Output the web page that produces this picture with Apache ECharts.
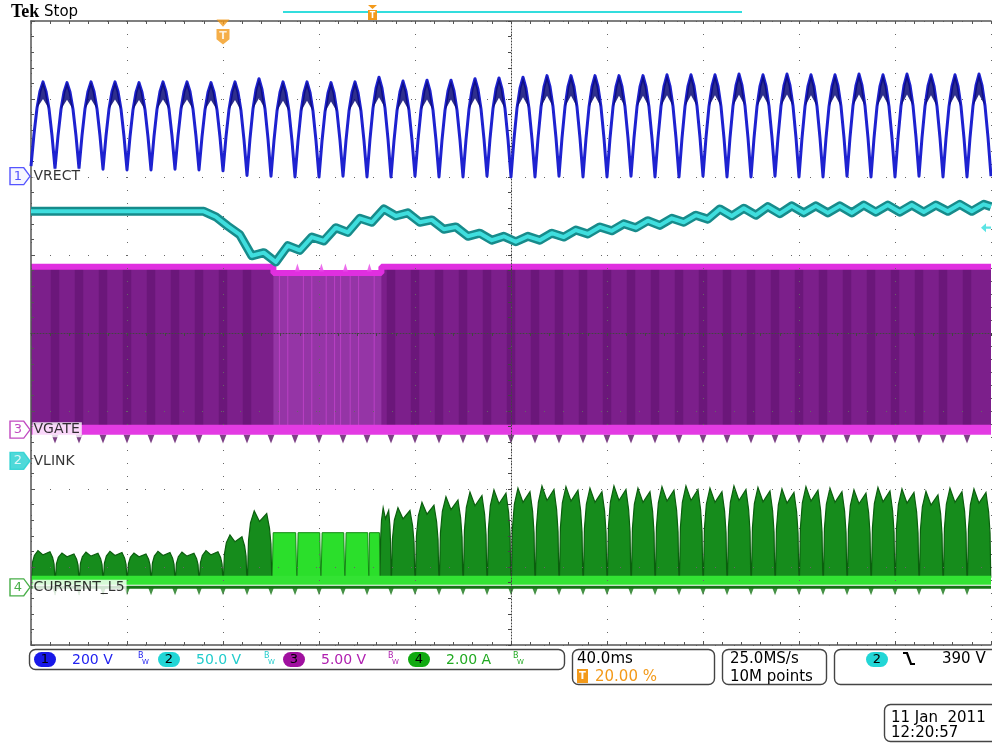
<!DOCTYPE html>
<html><head><meta charset="utf-8">
<script src="https://cdn.jsdelivr.net/npm/echarts@6/dist/echarts.min.js"></script>
<style>html,body{margin:0;padding:0;background:#fff}#c{width:992px;height:744px}</style>
</head><body><div id="c"></div><script>
// ---------------- axes (time in ms, amplitude in screen divisions) ----------------
const timeMin = -80, timeMax = 320, timeStep = 40;
const divMin = -4, divMax = 4;
const triggerT = 0;
const trigLevelDiv = 1.35;

// ---------------- CH1 VRECT (rectified mains) ----------------
const vrectTroughT = [-80,-70,-60,-50,-40,-30,-20,-10,0,10,20,30,40,50,60,70,80,90,100,110,120,130,140,150,160,170,180,190,200,210,220,230,240,250,260,270,280,290,300,310,320];
const vrectTroughV = [2.14,2.11,2.11,2.10,2.09,2.09,2.10,2.09,2.08,2.02,2.01,2.00,2.00,2.01,2.00,2.00,2.01,2.00,2.00,2.01,2.00,2.00,2.01,2.00,2.00,2.01,2.00,2.00,2.01,2.00,2.00,2.01,2.00,2.00,2.01,2.00,2.00,2.01,2.00,2.00,2.01];
const vrectPeakV = [3.22,3.21,3.22,3.22,3.21,3.22,3.22,3.21,3.22,3.26, 3.22,3.22,3.21,3.22,3.28,3.23,3.24,3.24,3.26,3.27, 3.28,3.30,3.30,3.30,3.30,3.30,3.31,3.31,3.31,3.32, 3.31,3.32,3.31,3.31,3.32,3.31,3.32,3.31,3.31,3.32];
const vrectShapeF = [0,0.125,0.25,0.375,0.5,0.625,0.75,0.875];
const vrectShapeK = [0,0.38,0.69,0.89,1,0.89,0.69,0.38];
const vrectCapNotchK = 0.8;   // inner bottom of the dark noise cap at each peak

// ---------------- CH2 VLINK ----------------
const vlinkT = [-80,-8,-3,2,7,12,17,22,27,32,37,42,47,52,57,62,67,72,77,82,87,92,97,102,107,112,117,122,127,132,137,142,147,152,157,162,167,172,177,182,187,192,197,202,207,212,217,222,227,232,237,242,247,252,257,262,267,272,277,282,287,292,297,302,307,312,317,320];
const vlinkV = [1.56,1.56,1.49,1.37,1.26,0.99,1.03,0.91,1.12,1.06,1.23,1.18,1.35,1.29,1.47,1.42,1.59,1.50,1.54,1.42,1.45,1.33,1.36,1.24,1.28,1.19,1.24,1.17,1.24,1.19,1.28,1.23,1.32,1.27,1.36,1.31,1.40,1.35,1.44,1.38,1.47,1.42,1.51,1.46,1.59,1.50,1.60,1.51,1.62,1.53,1.63,1.54,1.63,1.54,1.63,1.54,1.64,1.55,1.64,1.55,1.64,1.55,1.64,1.56,1.65,1.56,1.65,1.62];

// ---------------- CH3 VGATE ----------------
const vgateT = [-80,21,21,66,66,320];
const vgateTopV = [0.85,0.85,0.77,0.77,0.85,0.85];
const vgateLowV = -1.24;
const vgateMidT = [21,66];
const vgateMidTopV = 0.77;
const vgateTopSpikeT = [31,41,51,61];
const vgateTopSpikeV = 0.84;
const vgateLowSpikeV = -1.36;
const vgateStripeW = 3.5;      // ms, darker band width at each line trough
const vgateMidStreakT = [23.5,27,33.5,37,43,46.5,49,53,56.5,63];

// ---------------- CH4 CURRENT_L5 ----------------
const greenBaseV = -3.13;
const greenBandV = -3.17;
const greenLowLineV = -3.26;
const greenHumpStart = [-80,-70,-60,-50,-40,-30,-20,-10,0,10,65.4,70,80,90,100,110,120,130,140,150,160,170,180,190,200,210,220,230,240,250,260,270,280,290,300,310];
const greenHumpEnd   = [-70,-60,-50,-40,-30,-20,-10,0,10,20.4,70,80,90,100,110,120,130,140,150,160,170,180,190,200,210,220,230,240,250,260,270,280,290,300,310,320];
const greenHumpPeak  = [-2.79,-2.82,-2.81,-2.80,-2.82,-2.80,-2.81,-2.79,-2.59,-2.28,-2.24,-2.24,-2.17,-2.10,-2.04,-2.01,-1.99,-1.96,-1.97,-1.99,-1.96,-1.99,-1.97,-1.96,-1.99,-1.96,-1.98,-2.00,-1.97,-1.99,-2.01,-1.98,-2.00,-2.03,-1.99,-2.00];
const greenHumpF = [0.02,0.06,0.14,0.29,0.5,0.79,0.9,0.96,0.99];
const greenHumpK = [0,0.55,0.82,1.0,0.84,0.96,0.74,0.5,0];
const greenBlockStart = [20.4,30.8,40.8,50.8,60.8];
const greenBlockEnd   = [30.8,40.8,50.8,60.8,65.4];
const greenBlockTop   = [-2.56,-2.56,-2.56,-2.56,-2.56];
const greenBlockF = [0.01,0.05,0.95,0.99];
const greenBlockK = [0,1,1,0];
const greenSpikeV = -3.31;

// ---------------- channel reference markers ----------------
const chNums   = ['1','3','2','4'];
const chNames  = ['VRECT','VGATE','VLINK','CURRENT_L5'];
const chLevels = [2.01,-1.24,-1.64,-3.26];

// ================= build series data =================
const vrectData = [];
const vrectCaps = [];
for (let i = 0; i < vrectPeakV.length; i++) {
  const t0 = vrectTroughT[i], span = vrectTroughT[i+1] - t0;
  const cap = [];
  for (let k = 0; k < vrectShapeF.length; k++) {
    const f = vrectShapeF[k];
    const base = f <= 0.5 ? vrectTroughV[i] : vrectTroughV[i+1];
    const p = [t0 + f*span, base + vrectShapeK[k]*(vrectPeakV[i]-base)];
    vrectData.push(p);
    if (vrectShapeK[k] >= 0.69) cap.push(p);
  }
  const baseMid = (vrectTroughV[i] + vrectTroughV[i+1]) / 2;
  cap.push([t0 + 0.5*span, baseMid + vrectCapNotchK*(vrectPeakV[i]-baseMid)]);
  vrectCaps.push(cap);
}
vrectData.push([vrectTroughT[vrectTroughT.length-1], vrectTroughV[vrectTroughV.length-1]]);

const vlinkData = vlinkT.map((t,i)=>[t, vlinkV[i]]);

function segments(starts, ends, peaks, F, K, base){
  const out = [];
  for (let i = 0; i < starts.length; i++) {
    const s = starts[i], w = ends[i]-starts[i];
    for (let k = 0; k < F.length; k++) out.push([s + F[k]*w, base + K[k]*(peaks[i]-base)]);
  }
  return out;
}
const greenHumpData = segments(greenHumpStart, greenHumpEnd, greenHumpPeak, greenHumpF, greenHumpK, greenBaseV);
const greenBlockData = segments(greenBlockStart, greenBlockEnd, greenBlockTop, greenBlockF, greenBlockK, greenBaseV);

const spikeT = vrectTroughT.slice(1, vrectTroughT.length-1);
const stripeT = spikeT.filter(t => t < vgateMidT[0]-vgateStripeW || t > vgateMidT[1]+vgateStripeW);

// filled band between a trace and a base level, drawn through the axes (api.coord)
function polyFill(pts, base, fill, stroke, lineWidth, z){
  return {type:'custom', z:z, silent:true, data:[[pts[0][0], base]],
    encode:{x:0, y:1},
    renderItem: function(params, api){
      const top = pts.map(p=>api.coord(p));
      const bot = [api.coord([pts[pts.length-1][0], base]), api.coord([pts[0][0], base])];
      return {type:'polygon', shape:{points: top.concat(bot)},
              style:{fill:fill, stroke: lineWidth ? stroke : null, lineWidth: lineWidth||0}};
    }};
}

const vgatePts = vgateT.map((t,i)=>[t, vgateTopV[i]]);
const vgateMidPts = vgateMidT.map(t=>[t, vgateMidTopV]);

const markerStyles = {
  '1': {fill:'#f4f4ff', stroke:'#2b2bff', text:'#2b2bff'},
  '3': {fill:'#ffffff', stroke:'#b01cb0', text:'#b01cb0'},
  '2': {fill:'#22d0d0', stroke:'#22d0d0', text:'#ffffff'},
  '4': {fill:'#ffffff', stroke:'#1a9a1a', text:'#1a9a1a'}
};

const series = [
  polyFill(vgatePts, vgateLowV, '#7c1f8b', null, 0, 2),
  // darker bands of the gate envelope at each line trough
  {type:'custom', z:2, silent:true, data: stripeT.map(t=>[t, vgateLowV]), encode:{x:0,y:1},
   renderItem: function(params, api){
     const t = api.value(0);
     const a = api.coord([t - vgateStripeW/2, vgateTopV[0]]);
     const b = api.coord([t + vgateStripeW/2, vgateLowV]);
     return {type:'rect', shape:{x:a[0], y:a[1], width:b[0]-a[0], height:b[1]-a[1]}, style:{fill:'rgba(55,0,70,0.25)'}};
   }},
  polyFill(vgateMidPts, vgateLowV, '#9535a6', null, 0, 3),
  {type:'custom', z:3, silent:true, data: vgateMidStreakT.map(t=>[t, vgateLowV]), encode:{x:0,y:1},
   renderItem: function(params, api){
     const t = api.value(0);
     const a = api.coord([t, vgateMidTopV]);
     const b = api.coord([t, vgateLowV]);
     return {type:'line', shape:{x1:a[0], y1:a[1], x2:b[0], y2:b[1]}, style:{stroke:'rgba(230,80,235,0.45)', lineWidth:1}};
   }},
  {type:'line', data: vgatePts, symbol:'none', lineStyle:{color:'#e02fe0', width:6}, z:4, silent:true},
  {type:'line', data: [[timeMin, vgateLowV],[timeMax, vgateLowV]], symbol:'none', lineStyle:{color:'#e33be3', width:10}, z:4, silent:true},
  {type:'scatter', data: spikeT.map(t=>[t, vgateLowSpikeV]), symbol:'triangle', symbolRotate:180, symbolSize:[7,9], itemStyle:{color:'#5c1268'}, z:3, silent:true},
  {type:'scatter', data: vgateTopSpikeT.map(t=>[t, vgateTopSpikeV]), symbol:'triangle', symbolSize:[5,8], itemStyle:{color:'#e84ae8'}, z:4, silent:true},
  polyFill(greenHumpData, greenBaseV, '#168c1c', '#0b5e0e', 1.2, 2),
  polyFill(greenBlockData, greenBaseV, '#2bdf2b', '#128a12', 1, 3),
  {type:'line', data: [[timeMin, greenLowLineV],[timeMax, greenLowLineV]], symbol:'none', lineStyle:{color:'#157515', width:3}, z:3, silent:true},
  {type:'scatter', data: spikeT.map(t=>[t, greenSpikeV]), symbol:'triangle', symbolRotate:180, symbolSize:[6,8], itemStyle:{color:'#157515'}, z:3, silent:true},
  {type:'line', data: [[timeMin, greenBandV],[timeMax, greenBandV]], symbol:'none', lineStyle:{color:'#33e333', width:9}, z:4, silent:true},
  {type:'line', data: vlinkData, symbol:'none', lineStyle:{color:'#178b8b', width:9, join:'round'}, z:7, silent:true},
  {type:'line', data: vlinkData, symbol:'none', lineStyle:{color:'#3fdede', width:4, join:'round'}, z:8, silent:true},
  {type:'line', data: vrectData, symbol:'none', lineStyle:{color:'#1e22d0', width:3, join:'round'}, z:8, silent:true},
  // dark noise caps at the peaks of VRECT
  {type:'custom', z:9, silent:true, data: vrectCaps.map(c=>c[2]), encode:{x:0,y:1},
   renderItem: function(params, api){
     const c = vrectCaps[params.dataIndex];
     return {type:'polygon', shape:{points: c.map(p=>api.coord(p))}, style:{fill:'rgba(10,10,120,0.85)'}};
   }},
  {type:'scatter', clip:false, z:20, silent:true,
   symbol:'path://M0,0L13,0L19,8L13,16L0,16Z', symbolSize:[20,17], symbolOffset:[-11,0],
   data: chNums.map((n,i)=>({value:[timeMin, chLevels[i]],
      itemStyle:{color:markerStyles[n].fill, borderColor:markerStyles[n].stroke, borderWidth:1.3},
      label:{show:true, formatter:n, position:'inside', offset:[-2,0], color:markerStyles[n].text, fontSize:13, fontFamily:'DejaVu Sans'}}))},
  {type:'scatter', clip:false, z:19, silent:true, symbolSize:1, itemStyle:{color:'rgba(0,0,0,0)'},
   data: chNames.map((nm,i)=>({value:[timeMin, chLevels[i]],
      label:{show:true, formatter:nm, position:'right', distance:1, color:'#000', fontSize:14, fontFamily:'DejaVu Sans', backgroundColor:'#fff', padding:[1,2,0,1]}}))},
  {type:'scatter', clip:false, z:20, silent:true,
   symbol:'path://M0,0L12,0L6,7Z M0,9L12,9L12,19L6,24L0,19Z', symbolSize:[13,25], symbolOffset:[0,11],
   itemStyle:{color:'#f39a1a'}, data:[[triggerT, divMax]],
   label:{show:true, formatter:'T', position:'inside', offset:[0,4], color:'#fff', fontWeight:'bold', fontSize:11, fontFamily:'DejaVu Sans'}},
  {type:'scatter', clip:false, z:20, silent:true,
   symbol:'path://M0,4L5,0L5,3L10,3L10,5L5,5L5,8Z', symbolSize:[10,9], symbolOffset:[-5,0],
   itemStyle:{color:'#33dddd'}, data:[[timeMax, trigLevelDiv]]}
];

// ================= chrome (scope status bar) =================
const F = '"DejaVu Sans"';
function txt(x,y,s,size,color,extra){ return {type:'text', x:x, y:y, z:50, silent:true, style:{text:s, font:(extra||'')+size+'px '+F, fill:color, verticalAlign:'middle'}}; }
function box(x,y,w,h){ return {type:'rect', z:49, silent:true, shape:{x:x,y:y,width:w,height:h,r:6}, style:{fill:'#fff', stroke:'#444', lineWidth:1.4}}; }
function badge(x,y,n,color){ return [
  {type:'rect', z:50, silent:true, shape:{x:x,y:y,width:22,height:15,r:7.5}, style:{fill:color}},
  {type:'text', z:51, silent:true, x:x+11, y:y+8, style:{text:n, font:'13px '+F, fill:'#000', align:'center', verticalAlign:'middle'}}
]; }
function bw(x,color){ return [
  {type:'text', z:51, silent:true, x:x, y:656, style:{text:'B', font:'8px '+F, fill:color, verticalAlign:'middle'}},
  {type:'text', z:51, silent:true, x:x+4, y:662, style:{text:'W', font:'7px '+F, fill:color, verticalAlign:'middle'}}
]; }
const graphic = [].concat(
  [
    {type:'text', z:50, silent:true, x:11, y:12, style:{text:'Tek', font:'bold 18px "Liberation Serif"', fill:'#000', verticalAlign:'middle'}},
    txt(44, 12, 'Stop', 15, '#000'),
    {type:'rect', z:50, silent:true, shape:{x:283,y:11,width:459,height:2}, style:{fill:'#33dddd'}},
    {type:'polygon', z:51, silent:true, shape:{points:[[368,5],[377,5],[372.5,9]]}, style:{fill:'#f39a1a'}},
    {type:'rect', z:51, silent:true, shape:{x:368,y:10,width:9,height:10}, style:{fill:'#f39a1a'}},
    {type:'text', z:52, silent:true, x:372.5, y:15.5, style:{text:'T', font:'bold 8px '+F, fill:'#fff', align:'center', verticalAlign:'middle'}},
    box(29.5, 649.5, 535, 20),
    box(572.5, 649.5, 142, 35),
    box(722.5, 649.5, 104, 35),
    box(834.5, 649.5, 170, 35),
    box(884.5, 704.5, 120, 37)
  ],
  badge(34, 652, '1', '#1818e8'), [txt(72, 660, '200 V', 14, '#2323f0')], bw(138, '#2323f0'),
  badge(158, 652, '2', '#22d6d6'), [txt(196, 660, '50.0 V', 14, '#22cccc')], bw(264, '#22cccc'),
  badge(283, 652, '3', '#a0109f'), [txt(321, 660, '5.00 V', 14, '#b020b0')], bw(388, '#b020b0'),
  badge(408, 652, '4', '#11aa11'), [txt(446, 660, '2.00 A', 14, '#22aa22')], bw(513, '#22aa22'),
  [
    txt(577, 659, '40.0ms', 15, '#000'),
    {type:'rect', z:50, silent:true, shape:{x:577,y:669,width:11,height:14}, style:{fill:'#f39a1a'}},
    {type:'text', z:51, silent:true, x:582.5, y:676.5, style:{text:'T', font:'bold 10px '+F, fill:'#fff', align:'center', verticalAlign:'middle'}},
    txt(595, 677, '20.00 %', 15, '#f39a1a'),
    txt(730, 659, '25.0MS/s', 15, '#000'),
    txt(730, 677, '10M points', 15, '#000')
  ],
  badge(866, 652, '2', '#22d6d6'),
  [
    {type:'polyline', z:51, silent:true, shape:{points:[[903,653],[907,653],[911,664],[915,664]]}, style:{stroke:'#000', lineWidth:2.2, fill:null}},
    txt(942, 659, '390 V', 15, '#000'),
    txt(891, 718, '11 Jan  2011', 15, '#000'),
    txt(891, 733, '12:20:57', 15, '#000')
  ]
);

const dotted = (w)=>({color:'#444', width:1, type:[1,w]});
const option = {
  animation:false,
  backgroundColor:'#fff',
  grid:{left:31, right:1, top:21, bottom:99, containLabel:false},
  xAxis:[
    {type:'value', min:timeMin, max:timeMax, interval:timeStep, position:'bottom', z:5,
     axisLine:{show:true, onZero:false, lineStyle:{color:'#555', width:1.5}},
     axisTick:{show:true, inside:true, length:4, lineStyle:{color:'#555'}},
     minorTick:{show:true, splitNumber:5, length:3, lineStyle:{color:'#555'}},
     axisLabel:{show:false},
     splitLine:{show:true, lineStyle:{color:'#666', width:1, type:[1,12]}}},
    {type:'value', min:-5, max:5, interval:0.2, position:'top', z:5,
     axisLine:{show:true, onZero:false, lineStyle:{color:'#555', width:1.5}},
     axisTick:{show:true, inside:true, length:3, lineStyle:{color:'#555'}},
     axisLabel:{show:false}, splitLine:{show:false}},
    {type:'value', min:-5, max:5, interval:0.2, position:'bottom', z:6,
     axisLine:{show:true, onZero:true, onZeroAxisIndex:0, lineStyle:dotted(2)},
     axisTick:{show:true, length:3, lineStyle:{color:'#444'}},
     axisLabel:{show:false}, splitLine:{show:false}}
  ],
  yAxis:[
    {type:'value', min:divMin, max:divMax, interval:1, position:'left', z:5,
     axisLine:{show:true, onZero:false, lineStyle:{color:'#555', width:1.5}},
     axisTick:{show:true, inside:true, length:4, lineStyle:{color:'#555'}},
     minorTick:{show:true, splitNumber:5, length:3, lineStyle:{color:'#555'}},
     axisLabel:{show:false},
     splitLine:{show:true, lineStyle:{color:'#666', width:1, type:[1,18]}}},
    {type:'value', min:divMin, max:divMax, interval:0.2, position:'left', z:6,
     axisLine:{show:true, onZero:true, onZeroAxisIndex:2, lineStyle:dotted(2)},
     axisTick:{show:true, length:3, lineStyle:{color:'#444'}},
     axisLabel:{show:false}, splitLine:{show:false}}
  ],
  series: series,
  graphic: graphic
};
const chart = echarts.init(document.getElementById('c'));
chart.setOption(option);
</script></body></html>
